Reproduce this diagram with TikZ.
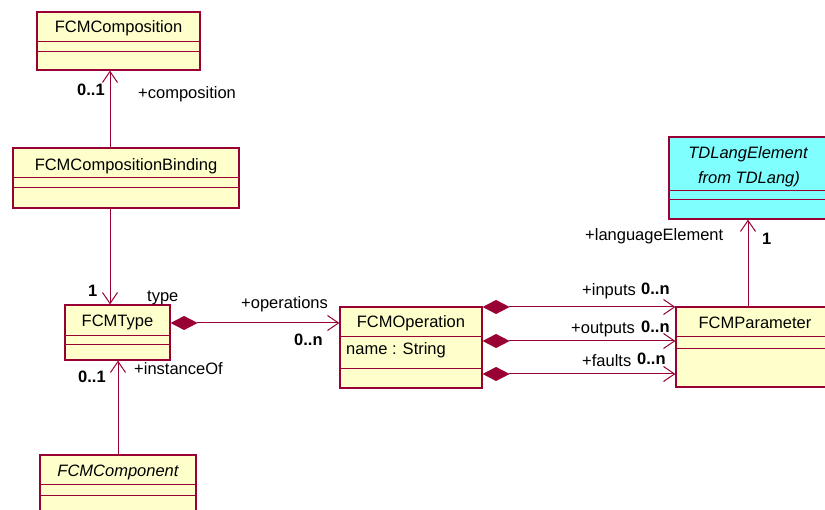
\documentclass[tikz,border=0pt]{standalone}
\usepackage{fontspec}
\setmainfont{Liberation Sans}
\usetikzlibrary{arrows.meta,fit}

\definecolor{umlred}{RGB}{153,0,51}
\definecolor{umlyellow}{RGB}{255,255,204}
\definecolor{umlcyan}{RGB}{128,255,255}

\tikzset{
  cls/.style={draw=umlred, fill=umlyellow, line width=1.2pt, inner sep=0pt},
  ifc/.style={cls, fill=umlcyan},
  sep/.style={draw=umlred, line width=1pt},
  title/.style={anchor=base, inner sep=0pt},
  lbl/.style={anchor=base west, inner sep=0pt},
  mult/.style={anchor=base west, inner sep=0pt, font=\fontsize{16.5}{20}\selectfont\bfseries},
  assoc/.style={draw=umlred, line width=1pt, -{Straight Barb[length=11pt, width=15pt]}},
  compo/.style={assoc, {Diamond[length=27pt, width=14pt, fill=umlred]}-{Straight Barb[length=11pt, width=15pt]}}
}

\begin{document}
\begin{tikzpicture}[x=1pt, y=-1pt, font=\fontsize{16.5}{20}\selectfont]
		\clip (0,0) rectangle (825,510);
		\fill[white] (0,0) rectangle (825,510);
		
		% classes
		\node[cls, fit={(37,12) (200,70)}] (fcmcomp) {};
		\draw[sep] (fcmcomp.west |- 0,42) -- (fcmcomp.east |- 0,42);
		\draw[sep] (fcmcomp.west |- 0,52) -- (fcmcomp.east |- 0,52);
		\node[title] (fcmcomp-t) at (118.5,33) {FCMComposition};
		
		\node[cls, fit={(13,148) (239,208)}] (binding) {};
		\draw[sep] (binding.west |- 0,178) -- (binding.east |- 0,178);
		\draw[sep] (binding.west |- 0,188) -- (binding.east |- 0,188);
		\node[title] (binding-t) at (126,171) {FCMCompositionBinding};
		
		\node[cls, fit={(65,305) (170,360)}] (ftype) {};
		\draw[sep] (ftype.west |- 0,336) -- (ftype.east |- 0,336);
		\draw[sep] (ftype.west |- 0,345) -- (ftype.east |- 0,345);
		\node[title] (ftype-t) at (117.5,327) {FCMType};
		
		\node[cls, fit={(40,455) (196,530)}] (component) {};
		\draw[sep] (component.west |- 0,485) -- (component.east |- 0,485);
		\draw[sep] (component.west |- 0,495) -- (component.east |- 0,495);
		\node[title] (component-t) at (118,476) {\itshape FCMComponent};
		
		\node[cls, fit={(340,307) (482,388)}] (operation) {};
		\draw[sep] (operation.west |- 0,337) -- (operation.east |- 0,337);
		\draw[sep] (operation.west |- 0,369) -- (operation.east |- 0,369);
		\node[title] (operation-t) at (411,328) {FCMOperation};
		\node[lbl] (operation-a) at (346,355) {name : String};
		
		\node[cls, fit={(676,307) (834,387)}] (param) {};
		\draw[sep] (param.west |- 0,337) -- (param.east |- 0,337);
		\draw[sep] (param.west |- 0,349) -- (param.east |- 0,349);
		\node[title] (param-t) at (755,329) {FCMParameter};
		
		\node[ifc, fit={(669,137) (827,219)}] (tdl) {};
		\draw[sep] (tdl.west |- 0,191) -- (tdl.east |- 0,191);
		\draw[sep] (tdl.west |- 0,200) -- (tdl.east |- 0,200);
		\node[title] (tdl-t1) at (748,159) {\itshape TDLangElement};
		\node[title] (tdl-t2) at (749,184) {\itshape from TDLang)};
		
		% associations
		\draw[assoc] (binding.north -| 110,0) -- (fcmcomp.south -| 110,0);
		\draw[assoc] (binding.south -| 110,0) -- (ftype.north -| 110,0);
		\draw[assoc] (component.north -| 118,0) -- (ftype.south -| 118,0);
		\draw[compo] (ftype.east |- 0,323) -- (operation.west |- 0,323);
		\draw[compo] (operation.east |- 0,307) -- (param.west |- 0,307);
		\draw[compo] (operation.east |- 0,341) -- (param.west |- 0,341);
		\draw[compo] (operation.east |- 0,374) -- (param.west |- 0,374);
		\draw[assoc] (param.north -| tdl.south) -- (tdl.south);
		
		% roles and multiplicities
		\node[mult] (m-comp) at (77,96) {0..1};
		\node[lbl] (r-comp) at (138,99) {+composition};
		\node[mult] (m-type) at (88,297) {1};
		\node[lbl] (r-type) at (147,302) {type};
		\node[lbl] (r-ops) at (241,309) {+operations};
		\node[mult] (m-ops) at (294,346) {0..n};
		\node[mult] (m-inst) at (78,383) {0..1};
		\node[lbl] (r-inst) at (134,375) {+instanceOf};
		\node[lbl] (r-in) at (582,296) {+inputs};
		\node[mult] (m-in) at (641,295) {0..n};
		\node[lbl] (r-out) at (571,334) {+outputs};
		\node[mult] (m-out) at (641,333) {0..n};
		\node[lbl] (r-flt) at (582,367) {+faults};
		\node[mult] (m-flt) at (637,365) {0..n};
		\node[lbl] (r-lang) at (585,241) {+languageElement};
		\node[mult] (m-lang) at (762,245) {1};
		\end{tikzpicture}
\end{document}
